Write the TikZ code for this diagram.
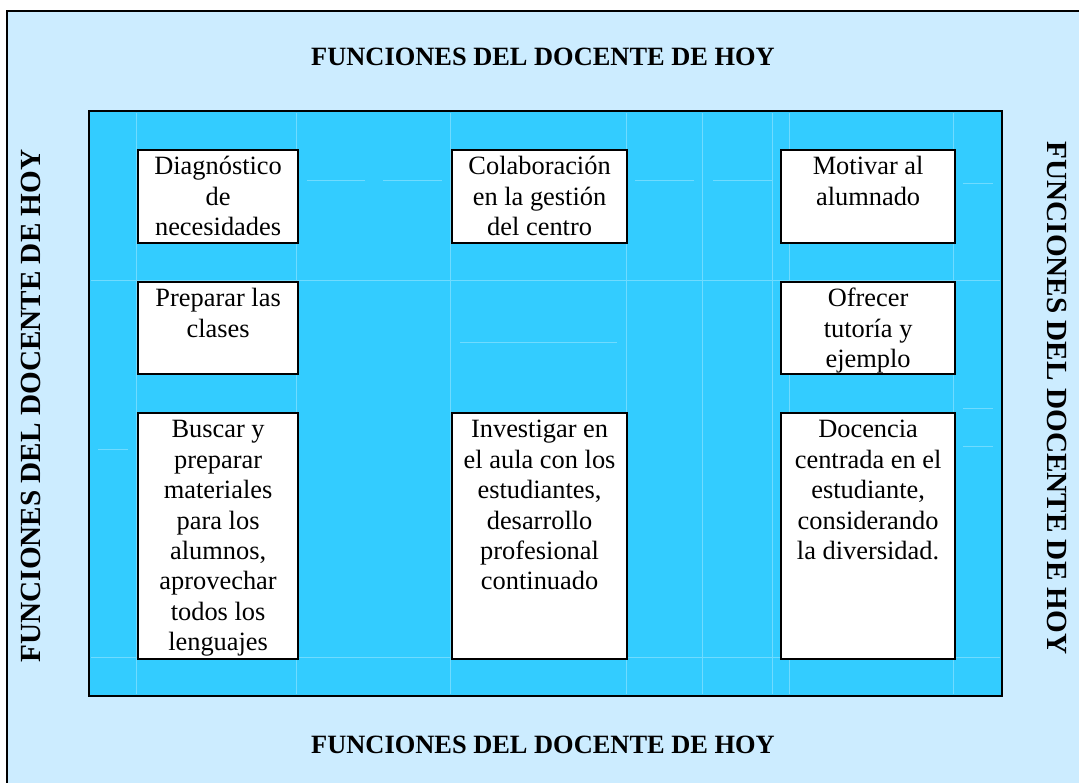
\documentclass[tikz,border=0pt]{standalone}
\usepackage{fontspec}
\setmainfont{Liberation Serif}

\definecolor{paleblue}{HTML}{CCECFF}
\definecolor{skyblue}{HTML}{33CCFF}
\definecolor{gridblue}{HTML}{6FDBFF}

\newcommand{\cardfont}{\fontsize{26.4}{30.4}\selectfont}
\newcommand{\cardtext}[3]{\parbox[t][#2][t]{#1}{\centering\vspace*{3.5pt}\strut #3}}

\tikzset{
    card/.style={draw, line width=2.2pt, fill=white, anchor=north west, inner sep=0pt, font=\cardfont},
    banner/.style={font=\bfseries\fontsize{26.4}{30}\selectfont},
    sidebanner/.style={font=\bfseries\fontsize{29.2}{33}\selectfont},
    faint/.style={gridblue, line width=0.8pt}
}

\begin{document}
\begin{tikzpicture}[x=1pt, y=-1pt]

    \clip (0,0) rectangle (1079,783);
    \fill[white] (0,0) rectangle (1079,783);

    % Outer frame
    \draw[fill=paleblue, line width=2.4pt] (7,11) rectangle (1090,795);

    % Inner table
    \draw[fill=skyblue, line width=2pt] (89,111) rectangle (1002,696);

    % Faint cell borders of the table
    \foreach \x in {136, 296, 450, 626, 702, 772, 789, 953} {
        \draw[faint] (\x,113) -- (\x,694);
    }
    \foreach \y in {280, 657} {
        \draw[faint] (91,\y) -- (1000,\y);
    }
    \draw[faint] (307,180) -- (365,180);
    \draw[faint] (383,180) -- (442,180);
    \draw[faint] (635,180) -- (694,180);
    \draw[faint] (713,180) -- (772,180);
    \draw[faint] (963,183) -- (993,183);
    \draw[faint] (460,342) -- (617,342);
    \draw[faint] (963,408) -- (993,408);
    \draw[faint] (963,446) -- (993,446);
    \draw[faint] (98,449) -- (128,449);

    % Titles round the table
    \node[banner] (titletop) at (543,57) {FUNCIONES DEL DOCENTE DE HOY};
    \node[banner] (titlebottom) at (543,745) {FUNCIONES DEL DOCENTE DE HOY};
    \node[sidebanner, rotate=90] (titleleft) at (31,406) {FUNCIONES DEL DOCENTE DE HOY};
    \node[sidebanner, rotate=-90] (titleright) at (1057,398) {FUNCIONES DEL DOCENTE DE HOY};

    % Row 1
    \node[card] (diag) at (137,149) {\cardtext{160pt}{93pt}{Diagnóstico\\de\\necesidades}};
    \node[card] (gestion) at (451,149) {\cardtext{175pt}{93pt}{Colaboración\\en la gestión\\del centro}};
    \node[card] (motivar) at (780,149) {\cardtext{174pt}{93pt}{Motivar al\\alumnado}};

    % Row 2
    \node[card] (preparar) at (137,281) {\cardtext{160pt}{92pt}{Preparar las\\clases}};
    \node[card] (tutoria) at (780,281) {\cardtext{174pt}{92pt}{Ofrecer\\tutoría y\\ejemplo}};

    % Row 3
    \node[card] (materiales) at (137,412) {\cardtext{160pt}{246pt}{Buscar y\\preparar\\materiales\\para los\\alumnos,\\aprovechar\\todos los\\lenguajes}};
    \node[card] (investigar) at (451,412) {\cardtext{175pt}{246pt}{Investigar en\\el aula con los\\estudiantes,\\desarrollo\\profesional\\continuado}};
    \node[card] (docencia) at (780,412) {\cardtext{174pt}{246pt}{Docencia\\centrada en el\\estudiante,\\considerando\\la diversidad.}};

\end{tikzpicture}
\end{document}
